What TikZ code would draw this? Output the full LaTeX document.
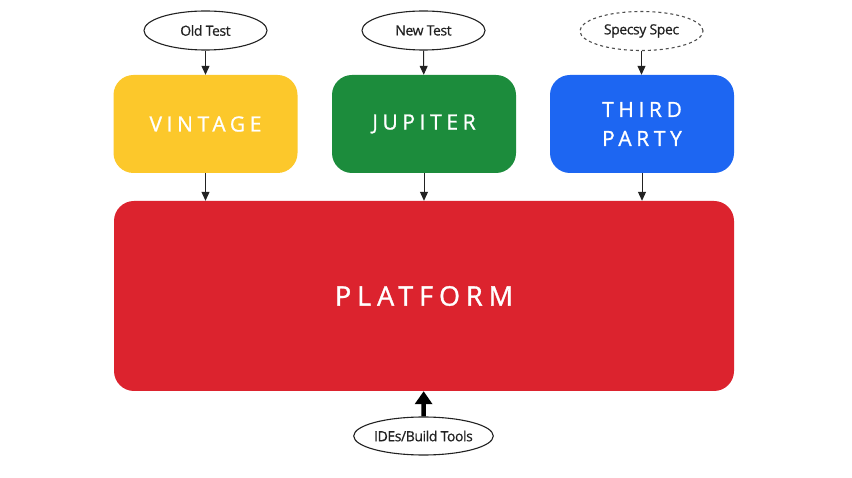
\documentclass[tikz,border=0pt]{standalone}
\usepackage{fontspec}
\setmainfont{Open Sans}
\newfontfamily\srcfont[LetterSpace=-3,FakeBold=0.6]{Open Sans}
\newfontfamily\boxfont[LetterSpace=22,FakeBold=1]{Open Sans}
\newfontfamily\platfont[LetterSpace=22,FakeBold=1.2]{Open Sans}
\usetikzlibrary{shapes.geometric,arrows.meta}
\definecolor{vyellow}{HTML}{FCC82B}
\definecolor{jgreen}{HTML}{1C8C3C}
\definecolor{tblue}{HTML}{1D66F2}
\definecolor{pred}{HTML}{DC232E}
\definecolor{edge}{HTML}{222222}
\tikzset{
  src/.style={ellipse, draw=edge, line width=1.1pt, minimum width=123pt, minimum height=39pt, inner sep=0pt, font=\srcfont\fontsize{14}{16}\selectfont, text=edge},
  engine/.style={rounded corners=20pt, minimum width=184pt, minimum height=98pt, inner sep=0pt, text=white, align=center, font=\boxfont\fontsize{21}{29}\selectfont},
  conn/.style={draw=edge, line width=1pt, -{Triangle[length=9pt,width=8pt]}},
  thick conn/.style={draw=black, line width=4.5pt, -{Triangle[length=13pt,width=17pt]}}
}
\begin{document}
\begin{tikzpicture}[x=1pt,y=-1pt]
\useasboundingbox[fill=white] (0,0) rectangle (852,478);
\node[src] (old) at (205.5,30.5) {Old Test};
\node[src] (new) at (423.5,30.5) {New Test};
\node[src, dashed, draw=edge!80] (spec) at (641.5,31) {Specsy Spec};
\node[engine, fill=vyellow] (vin) at (205.5,124) {VINTAGE};
\node[engine, fill=jgreen] (jup) at (424,124) {JUPITER};
\node[engine, fill=tblue] (third) at (642,124) {THIRD\\PARTY};
\node[engine, fill=pred, minimum width=620pt, minimum height=190pt, font=\platfont\fontsize{27}{30}\selectfont] (plat) at (424,296) {PLATFORM};
\node[src, minimum height=38pt] (ide) at (423.5,436) {IDEs/Build Tools};
\draw[conn] (old) -- (vin);
\draw[conn] (new) -- (jup);
\draw[conn] (spec) -- (spec |- third.north);
\draw[conn] (vin.south) -- (vin.south |- plat.north);
\draw[conn] (jup.south) -- (jup.south |- plat.north);
\draw[conn] (third.south) -- (third.south |- plat.north);
\draw[thick conn] (ide) -- (plat);
\end{tikzpicture}
\end{document}
